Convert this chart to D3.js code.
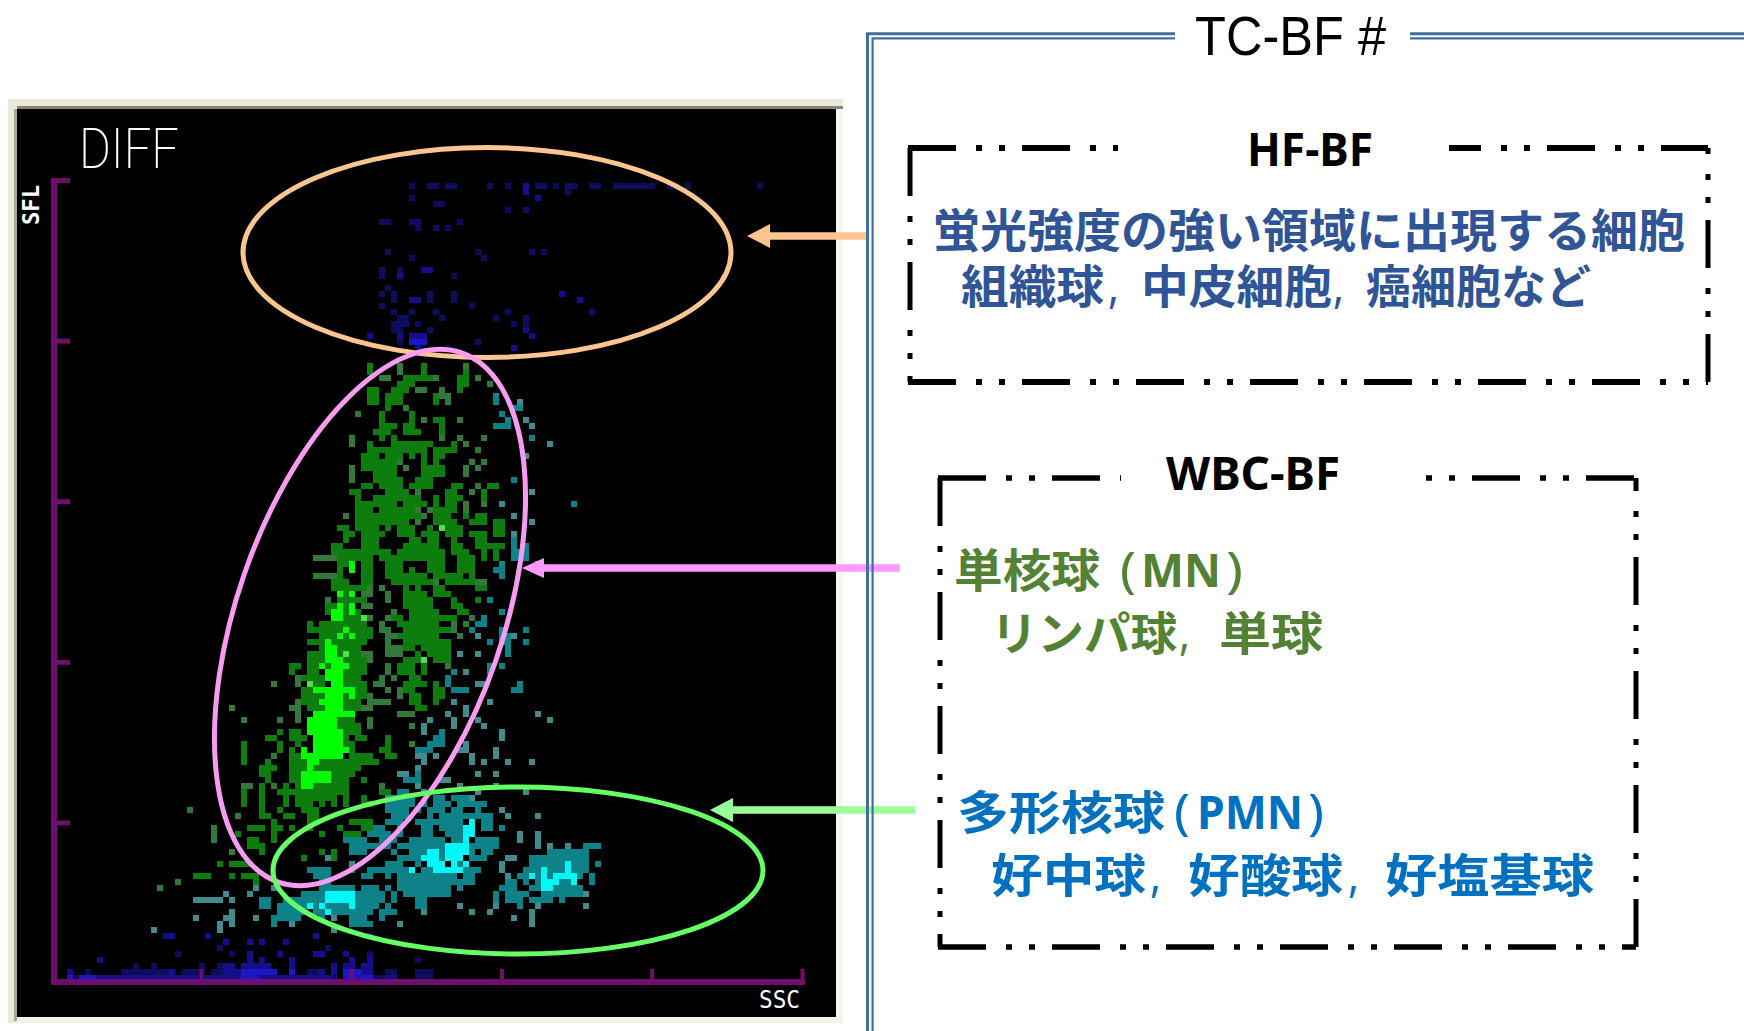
<!DOCTYPE html>
<html><head><meta charset="utf-8">
<script src="https://cdn.jsdelivr.net/npm/d3@7"></script>
<style>html,body{margin:0;padding:0;background:#fff;overflow:hidden}svg{display:block}</style>
</head><body><svg id="c" width="1744" height="1031"></svg>
<script>
// Scatter density: [channel row, "column[..column]:level ..."]
const highFluorescenceRows = [
[3,"35:e 38..39:e 41..42:e 48:e 51:e 54:d 56..57:e 59:e 61..62:e 65..66:e 69..75:e 78..79:e 81:e 93:e"],
[4,"54:d 61:e"],[5,"35:e 56:d"],[6,"39..40:e"],[7,"51:e 54:e"],
[9,"30:e 31:e 35:e 36:e 43:e"],[10,"36:e 39:e 41:e"],
[14,"31:e 46:e 55:e 57:e"],[15,"35:e 47:e"],
[17,"30:e 33:e 37..38:d"],[18,"30:e 33:d 42:e"],[20,"31:e"],
[21,"30:e 32:e 38:e 42:e 60:d"],[22,"32:e 35..36:d 38:e 42:e 63:d"],[23,"30:e 45:e"],
[24,"32:e 35:e 39:e 51:e 65:e"],[25,"33..34:e 40:e 49:e 54:e"],[26,"32..34:e 36:e 52:e 54:e"],
[27,"32..33:e 38:e 54:d"],[28,"28:d 33:d 35..37:d 55:d"],[29,"33:e 35..37:b 46:e"],[30,"36:d 41:e 52:d"]
];
const mononuclearRows = [
[33,"28:g 33:h 37:g 44:h"],[34,"28:g 33:h 37:g 44:g"],
[35,"30:h 31:h 34..35:g 36..38:g 39:h 43..44:g 46:h"],[36,"33..35:g 43..44:g 48:h"],
[37,"28..29:g 32..34:g 36..37:h 40:h 43:g"],[38,"28..29:g 31..33:g 39:g 40:h 41:h 49:t"],
[39,"28..29:g 31..33:g 39:g 41:h 49:t 53:s"],[40,"31:g 34:h 52..53:t"],[41,"26:h 30:g 35:g 50:t"],
[42,"30:g 35:g 37:h 39..40:g 43:h 51:t 54:s"],[43,"30..32:g 34..35:g 40:g 49..51:t 55:s"],
[44,"29..31:g 34..36:g 40:g"],[45,"25:h 30:g 32:g 40:h 43:h 47:h 55:t"],
[46,"25:h 28:g 32..38:g 42:g 44:h 58:s"],[47,"28..30:g 31..33:g 34..36:g 37:g 39..42:g 46:h"],
[48,"27..29:g 31..33:g 35:g 37:g 39..40:g 54:s"],[49,"27..32:g 33:h 37:g 39:g 45:h 47:h"],
[50,"25:h 27..32:g 34:h 37..40:g 44:h 46:h"],[51,"25:h 29..32:g 37..40:g 44:h"],
[52,"25:h 29..30:g 31..33:g 36..38:g 52:t"],[53,"27..28:g 30..32:g 33:g 35..38:g 42..43:g 46:h 48..49:g"],
[54,"25..26:g 31..33:g 34:g 36:h 41..42:g 45:h 47:g 55:s"],[55,"26:g 29..33:g 34..36:g 39:g 41..43:g 47:g"],
[56,"26..28:g 29..31:g 32:g 34..37:g 39:g 41..42:g 44:h 47:h 50:s 62:t"],
[57,"26..28:g 30..32:g 33..35:g 36:h 38:h 39..40:g 41..42:g 44:h"],
[58,"24:h 26..29:g 30..36:g 37:h 39..41:g 44:g 46..47:g 52:s"],
[59,"26..28:g 29..34:g 36:h 39..42:g 45..47:g 49..50:g 55:s"],
[60,"23..24:g 26..29:g 31:g 33..35:g 38:g 40:l 41..43:g 49..50:g"],
[61,"24..25:g 27..30:g 33..35:g 37..39:g 41..43:g 45..47:g 49..50:g 52:s"],
[62,"24:g 27..29:g 35..36:g 38..39:g 42:g 46..47:g 52:t"],
[63,"22..23:g 27..29:g 34..37:g 38..39:g 42..43:g 46..50:g 52:t 54:t"],
[64,"22..31:g 33..37:g 38..40:g 42..44:g 47:g 49:g 52..54:t"],
[65,"19..22:h 23..28:g 30..34:g 35..37:g 38..40:g 43..45:g 47:g 49:g 52..54:t"],
[66,"23..24:g 25:G 27..28:g 31..33:g 38..40:g 43..45:g 50:t 56:s"],
[67,"23:g 25:G 27..28:g 31..33:g 35:g 38..40:g 43..45:g 49..50:t"],
[68,"19..22:h 23:g 27..28:g 31..33:g 34..37:g 39..40:g 41..43:g 45:g 50:t"],
[69,"22..24:g 27..28:g 32..33:g 34..38:g 39:h 41..45:g 46..47:h"],
[70,"22..27:g 28:h 30:h 34:g 36:g 39:g 40:g 46..47:g"],
[71,"23:G 24:g 25:G 27..28:h 31:h 34..37:g 39..41:g"],
[72,"21:h 23..27:g 31:h 34..38:g 42:g 46:g 48:t"],
[73,"21:g 22:g 23:G 24:g 25:G 27..28:h 34..38:g 42..43:g"],
[74,"21:g 22..23:G 24:g 25:G 26:g 32:h 35..39:g 43..44:g 50:t"],
[75,"22..23:G 24..26:g 27:l 28:h 31:h 32..33:g 35..42:g 45:h 47:t"],
[76,"18:g 20:g 21..27:g 30:h 33..34:g 35..39:g 42:h 44:h 46..47:t"],
[77,"18..20:g 21..23:g 24:G 25..28:g 30..31:h 34..41:g 42:h 45:t 50:t 54:t"],
[78,"20..22:g 23:G 24:g 25:G 26..28:g 31..32:h 33..39:g 43:h 46:s 50..51:t 52:s"],
[79,"18..20:g 21:G 22..27:g 31:h 34..41:g 48:t 50..51:t 54:t"],
[80,"20:g 21..22:G 23..26:g 31..33:h 34..35:g 37..41:g 51:t"],
[81,"18..20:g 21..22:G 23:g 24:l 25..26:g 27..28:h 31..33:h 36:g 38..41:g 43:s 46:s 51:t"],
[82,"18..20:g 21..23:G 24..27:g 28:h 34..36:g 37:l 39..41:g"],
[83,"15..16:g 18..19:g 20:G 21:g 22..24:G 25..27:g 31:h 33..35:g 37:g 41:h 48:t 50:t"],
[84,"15:g 18..19:g 21..23:G 24..27:g 31:h 33..35:g 37:g 42:t 44:s 48:t"],
[85,"16:h 17..20:g 21..23:G 24..26:g 30:h 32:h 35..36:g 41:t"],
[86,"12:h 16:h 18:l 19..20:g 22..23:G 24..27:g 29..30:h 34..37:g 39:g 41:t 46..47:s 53:t"],
[87,"17..18:g 19..25:G 26..27:g 31:h 33:h 34..35:g 39..40:g 42..44:t 52..53:t"],
[88,"17..20:g 21..23:G 24:g 25:G 26..27:g 28:h 33:h 35..36:g 39..40:g"],
[89,"16:h 17..19:g 20..23:G 24..26:g 28..31:h 35..36:g 39:g 42:s 48:s"],
[90,"5:h 15..16:h 18..20:g 21..23:G 24..26:g 27..28:h 36..37:g 44:s"],
[91,"16:h 19..25:G 33..35:h 41:s 44:s 56:s"],
[92,"7:h 13:h 16:h 18..22:G 23..25:g 28:h 38:s 42:s 46:s 58:s"],
[93,"18..22:G 23..26:g 28:h 35:h 37:s 42:s 47:s"],
[94,"13:g 15..16:g 18..23:G 24..26:g 37:s 40:t 50:s"],
[95,"11..12:g 15..17:g 19..23:G 24:g 26..27:g 31:g 39..40:t 50:s"],
[96,"7:g 13:g 16:g 19..23:G 24..25:g 31:g 35:h 38..40:t 44:s"],
[97,"7:g 13:g 15:g 17:G 19..24:G 25:g 30..31:g 36..38:t 43..44:s 49:s"],
[98,"7:g 12:h 15..16:g 17..23:G 25..28:g 31..32:g 36..37:s 39:s 45:s 49:s"],
[99,"7:g 11:g 15..17:g 18..19:G 20..24:g 25..29:g 37:s 45:s 47:s 51:s 55:s"],
[100,"10..12:g 15..17:g 18:G 19..24:g 25..26:g 36:s"],
[101,"10..11:g 15..16:g 17..21:G 22..24:g 25:g 33..34:s 36:t 46:s 49:s"],
[102,"11:g 15..16:g 17..21:G 22..24:g 27:g 34..36:t 40..41:s"],
[103,"7..8:h 10:g 12:h 14:g 16:g 17..18:G 19..23:g 24:g 30:h 36:s 43:s 49:s"],
[104,"7:g 10:g 13..15:g 16..23:g 24:g 30..31:g 33..34:t 37:s 46:s 54:s"],
[105,"7:g 10:g 14:g 16..19:g 20..21:g 22:g 24:g 27:g 31:s 32..35:t 39..40:t 42..44:t 45:s"],
[106,"7:g 10:g 14:g 16..18:g 20:g 22:g 24:g 27..28:g 31..35:t 37:t 39..41:t 43..47:t"],
[107,"-2:h 10:g 13:g 17..19:g 31..34:t 36:t 38..40:t 42..43:t 46:t 50:s"],
[108,"6:h 10..11:g 14..15:g 18..19:g 32..34:t 38:t 40..41:t 42..48:t 51:s 56:s"],
[109,"12:g 18..19:g 25:g 26..28:g 31..33:t 36..37:t 38..41:t 42..43:t 45:C 47..48:t"],
[110,"2:h 8..9:g 10:g 12..13:g 15:g 18:g 23:g 27..28:g 29..30:t 33:t 37..38:t 40..43:t 44..45:C 47..48:t 50:t"]
];
const polymorphonuclearRows = [
[111,"2:h 6:g 12:g 20:g 24:g 25..26:g 28..31:t 33:t 37..38:t 41..43:t 44..45:C 53:s 56:s"],
[112,"2:h 8..9:g 12:g 24..27:t 30..32:t 35..40:t 42..43:t 44:C 46..49:t 53:s 56:s"],
[113,"8..9:g 10:g 25..27:t 28..31:t 33..40:t 41..44:C 45..46:t 47..49:t 56:s 58:s 61:s 64..66:t"],
[114,"5:h 10:g 20:g 22:g 25..27:t 32:t 35..37:t 38..39:C 40:t 41..44:C 45:t 47..48:t 58..64:t"],
[115,"17:g 21:s 22:g 33..36:t 37..39:C 40:t 41..43:C 45:t 46..47:t 51..52:s 55..57:t 58..64:t"],
[116,"3:g 5..8:g 25:s 31..33:t 36:t 38..40:C 42:C 43:t 44:C 50:s 55..60:t 61:C 62..64:t 66:t"],
[117,"18..21:t 25:t 28..34:t 35:C 37..38:t 39..41:C 42..43:C 44..46:t 50:s 54..56:t 57:C 58..60:t 61:C 62..64:t"],
[118,"-1..1:g 5:g 7..9:g 19..21:t 27..28:t 31:t 33..42:t 44..45:t 51:s 53..54:t 55:C 56:t 57:C 58:t 59..62:C 63:t 65:t"],
[119,"-4:h 9:g 20..21:t 33..43:t 44..45:t 51..52:t 54:t 56:t 57..58:C 59:C 60..61:t 62:C 65:t"],
[120,"-7:h 9:s 12:s 20..25:t 27..29:t 31:t 33..41:t 43:t 50..52:t 55..56:t 57..58:C 59..61:t 62..63:t"],
[121,"4:s 8:s 17..20:t 21..25:C 26..30:t 32:t 34..36:t 37..41:t 49:t 51..54:t 57..63:t 64:s"],
[122,"-1..3:s 5:s 10..11:t 14..20:t 21..25:C 26..30:t 32:t 36..37:t 49:t 51..53:t 55..58:t 60:t"],
[123,"10..11:t 13..17:t 18:C 19:t 20:C 21..24:t 25:C 26..29:t 31:t 36..37:t 43:s 49:s 53:t 56:s 64:s"],
[124,"5:s 13..17:t 19..20:t 21:C 22..26:t 27..28:t 30..32:t 37:s 45:s 48:s 55:s"],
[125,"-1:s 4..5:s 9:s 12..16:t 20:t 22:s 25..26:t 27:t 30:t 52:s 55:s"],
[126,"3:s 5:s 12:t 15:s 25..26:t 27..28:t 33:s 55:s"],
[127,"-8:s 3:s 22:s"]
];
const debrisRows = [
[128,"-6..-5:d 1:d 19:d 28:d"],[129,"4:d 8:d 10:d 14:d"],[130,"3:e 21:e"],
[131,"-4:e 5:e 8:d 13:d 19..20:d 24:d 28:e"],[132,"-17:d 8:d 10:d 15:d 25:d 28:d 36:e"],
[133,"-11:e -8:e 0:e 3:e 4..5:d 7..11:d 15:d 22:d 24..25:d 27..28:d"],
[134,"-22:d -19:e -13..-6:e -5:d -3..0:e 2..3:e 4..6:d 7..12:b 15:b 18..19:e 20:d 22:d 24..26:b 27..28:d 31..32:e 36..38:e"],
[135,"-22:b -21:e -20..-18:b -17..-1:d 0:e 1..6:d 7..9:b 10..21:d 22:e 24..26:b 27..28:b 29..30:e 31..32:d 36..38:e"]
];
const levelColors = {e:"#0e0a5c",d:"#150f8c",b:"#1a14c4",g:"#0a7d0a",h:"#34783a",l:"#50e050",G:"#00ff00",t:"#0e8289",s:"#438a8c",C:"#00f8f8"};

const boxDash = "48 20 6 17 6 17";
const svg = d3.select("#c");
// ---------- screen panel
svg.append("rect").attr("x",8).attr("y",99).attr("width",835).attr("height",924).attr("fill","#ebe8d8");
svg.append("rect").attr("x",17).attr("y",106).attr("width",826).attr("height",3).attr("fill","#85857a");
svg.append("rect").attr("x",14).attr("y",109).attr("width",3).attr("height",912).attr("fill","#a8a698");
svg.append("rect").attr("x",836).attr("y",109).attr("width",7).attr("height",914).attr("fill","#f6f5ee");
svg.append("rect").attr("x",17).attr("y",1017).attr("width",826).attr("height",6).attr("fill","#f3f2ea");
svg.append("rect").attr("x",17).attr("y",109).attr("width",819).attr("height",908).attr("fill","#000");

// ---------- density cells
const col = d3.scaleLinear().domain([0,70]).range([199,619]);
const row = d3.scaleLinear().domain([0,136]).range([165,981]);
const cells = [];
[highFluorescenceRows, mononuclearRows, polymorphonuclearRows, debrisRows].forEach(rows=>{
  rows.forEach(([r,spec])=>{
    spec.split(" ").forEach(tok=>{
      const m = tok.match(/^(-?\d+)(?:\.\.(-?\d+))?:(.)$/);
      const a=+m[1], b=m[2]===undefined?a:+m[2];
      for(let c=a;c<=b;c++) cells.push({c,r,l:m[3]});
    });
  });
});
svg.append("defs").append("filter").attr("id","soft").append("feGaussianBlur").attr("stdDeviation",0.55);
svg.append("g").attr("filter","url(#soft)").selectAll("rect").data(cells).join("rect")
  .attr("x",d=>col(d.c)).attr("y",d=>row(d.r))
  .attr("width",d=>col(d.c+1)-col(d.c)).attr("height",d=>row(d.r+1)-row(d.r))
  .attr("fill",d=>levelColors[d.l]);

// ---------- axes
const axisColor = "#6e0f6e";
const sscScale = d3.scaleLinear().domain([0,4]).range([201,802]);
const sflScale = d3.scaleLinear().domain([0,5]).range([983,180]);
const gx = svg.append("g").attr("transform","translate(0,982)").call(d3.axisTop(sscScale).ticks(4).tickSize(13).tickFormat("").tickSizeOuter(0));
gx.selectAll(".domain").attr("stroke",axisColor).attr("stroke-width",6).attr("d","M51,0H805");
gx.selectAll(".tick line").attr("stroke",axisColor).attr("stroke-width",4);
const gy = svg.append("g").attr("transform","translate(54,0)").call(d3.axisRight(sflScale).ticks(5).tickSize(16).tickFormat("").tickSizeOuter(0));
gy.selectAll(".domain").attr("stroke",axisColor).attr("stroke-width",6).attr("d","M0,178V985");
gy.selectAll(".tick line").attr("stroke",axisColor).attr("stroke-width",5);
gy.selectAll(".tick").filter(d=>d===0).remove();

// ---------- text helpers
const cjk = "'Noto Sans CJK JP','Noto Sans',sans-serif";
const latin = "'Noto Sans','Noto Sans CJK JP',sans-serif";
function label(t,x,y,size,color,opts={}){
  const el = svg.append("text").attr("x",x).attr("y",y).attr("font-size",size).attr("fill",color)
    .attr("font-family",opts.family||cjk)
    .attr("font-weight",opts.weight||700).text(t);
  if(opts.len) el.attr("textLength",opts.len).attr("lengthAdjust","spacingAndGlyphs");
  if(opts.rotate) el.attr("transform",`rotate(${opts.rotate} ${x} ${y})`);
  return el;
}
// one text line made of runs: [string, left, width, kind]
function runs(parts,y,size,color){
  const el = svg.append("text").attr("y",y).attr("font-size",size).attr("fill",color);
  parts.forEach(([t,x,w,kind])=>{
    el.append("tspan").attr("x",x).attr("textLength",w).attr("lengthAdjust","spacingAndGlyphs")
      .attr("font-family",kind?latin:cjk)
      .attr("font-weight",kind==="thin"?400:700)
      .attr("font-size",kind==="thin"?size+4:size).text(t);
  });
}
label("DIFF",79,168,56,"#fff",{family:"Roboto",weight:200,len:100});
label("SFL",39,225,23,"#fff",{family:"'DejaVu Sans Mono'",weight:700,len:40,rotate:-90});
label("SSC",759,1008,25,"#fff",{family:"'DejaVu Sans Mono'",weight:400,len:41});

// ---------- gates
const gates = [
 {cx:487,cy:252.5,rx:244,ry:105,rot:0,color:"#fbc58f"},
 {cx:370,cy:617.5,rx:133,ry:280,rot:19.1,color:"#f99bf2"},
 {cx:518,cy:870.5,rx:245,ry:83.5,rot:0,color:"#66ff66"}
];
svg.append("g").selectAll("ellipse").data(gates).join("ellipse")
  .attr("cx",d=>d.cx).attr("cy",d=>d.cy).attr("rx",d=>d.rx).attr("ry",d=>d.ry)
  .attr("transform",d=>`rotate(${d.rot} ${d.cx} ${d.cy})`)
  .attr("fill","none").attr("stroke",d=>d.color).attr("stroke-width",5);

// ---------- arrows
const arrows = [
 {x1:868,x2:747,y:236,h:12,w:23,color:"#fbc58f"},
 {x1:900,x2:522,y:568,h:10,w:22,color:"#ff99ff"},
 {x1:915,x2:710,y:810,h:12,w:23,color:"#99ff99"}
];
arrows.forEach(a=>{
  svg.append("line").attr("x1",a.x1).attr("x2",a.x2+a.w-1).attr("y1",a.y).attr("y2",a.y).attr("stroke",a.color).attr("stroke-width",7.5);
  svg.append("path").attr("d",`M${a.x2},${a.y}L${a.x2+a.w},${a.y-a.h}V${a.y+a.h}Z`).attr("fill",a.color);
});

// ---------- double frame
const frameBlue = "#3f6f9f";
[{x:867.5,y:33.7,w:3},{x:872.6,y:38.4,w:2.2}].forEach(f=>{
  svg.append("path").attr("fill","none").attr("stroke",frameBlue).attr("stroke-width",f.w)
   .attr("d",`M1175,${f.y}H${f.x}V1031`);
  svg.append("path").attr("fill","none").attr("stroke",frameBlue).attr("stroke-width",f.w)
   .attr("d",`M1410,${f.y}H1744`);
});

// ---------- dash-dot boxes
function dashed(d,offset=0,w=5){
  svg.append("path").attr("d",d).attr("fill","none").attr("stroke","#000").attr("stroke-width",w)
    .attr("stroke-dasharray",boxDash).attr("stroke-dashoffset",offset);
}
dashed("M908,148H1118",0,6);
dashed("M910,148V382",0,5);
dashed("M908,382H1708",0,6);
dashed("M1449,148H1708",16,6);
dashed("M1708,148V382",42,5);
dashed("M938,478H1121",0,5.5);
dashed("M940,478V947",0,5);
dashed("M938,947H1636",0,5.5);
dashed("M1426,478H1636",68,5.5);
dashed("M1636,478V947",35,5);

// ---------- titles and descriptions
label("TC-BF #",1195,55,55,"#000",{family:"'Liberation Sans'",weight:400,len:191});
label("HF-BF",1247,166,46,"#000",{family:latin,weight:700,len:126});
label("WBC-BF",1166,490,46,"#000",{family:latin,weight:700,len:174});
label("蛍光強度の強い領域に出現する細胞",933,247,46,"#2f5597",{len:752});
runs([["組織球",961,143],[",",1108,11,"thin"],["中皮細胞",1141,191],[",",1333,11,"thin"],["癌細胞など",1366,225]],303,46,"#2f5597");
runs([["単核球",954,146],["(",1120,16,"thin"],["MN",1141,80,"latin"],[")",1226,17,"thin"]],587,46,"#548235");
runs([["リンパ球",991,186],[",",1179,11,"thin"],["単球",1219,104]],650,46,"#548235");
runs([["多形核球",957,208],["(",1174,16,"thin"],["PMN",1197,106,"latin"],[")",1308,16,"thin"]],829,46,"#0070c0");
runs([["好中球",991,155],[",",1150,11,"thin"],["好酸球",1188,155],[",",1348,11,"thin"],["好塩基球",1385,209]],892,46,"#0070c0");
</script></body></html>
